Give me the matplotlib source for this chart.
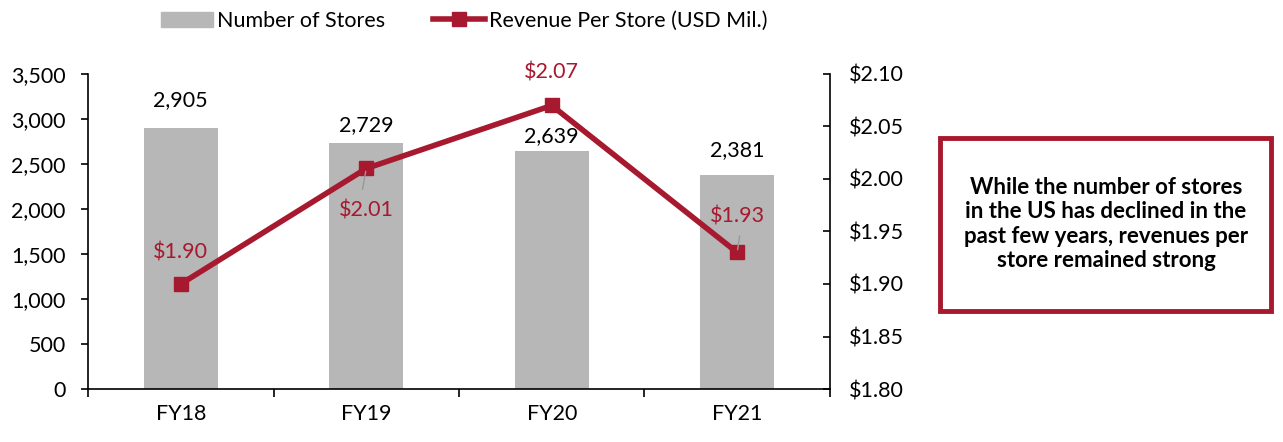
import matplotlib.pyplot as plt
from matplotlib.patches import FancyBboxPatch, Patch
from matplotlib.lines import Line2D
from matplotlib.ticker import FuncFormatter, MultipleLocator

plt.rcParams['font.family'] = ['Lato', 'DejaVu Sans']

years = ['FY18', 'FY19', 'FY20', 'FY21']
stores = [2905, 2729, 2639, 2381]
revenue = [1.90, 2.01, 2.07, 1.93]
rev_labels = ['$1.90', '$2.01', '$2.07', '$1.93']

red = '#A6192E'
grey = '#B7B7B7'
fs = 15.5

fig = plt.figure(figsize=(12.83, 4.42), dpi=100)
ax = fig.add_axes([0.0686, 0.1199, 0.5783, 0.7127])
ax2 = ax.twinx()

x = range(len(years))
ax.bar(x, stores, width=0.4, color=grey, zorder=1)
# label gap above each bar top (points), as placed in the original
bar_gaps = [20, 13, 11, 18]
for i, v in enumerate(stores):
    ax.annotate(f'{v:,}', (i, v), xytext=(0, bar_gaps[i]), textcoords='offset points',
                ha='center', va='center', fontsize=fs)

ax.set_xlim(-0.5, 3.5)
ax.set_ylim(0, 3500)
ax.yaxis.set_major_locator(MultipleLocator(500))
ax.yaxis.set_major_formatter(FuncFormatter(lambda v, p: f'{v:,.0f}'))
ax.set_xticks([-0.5, 0.5, 1.5, 2.5, 3.5])
ax.set_xticklabels([])
ax.set_xticks(list(x), minor=True)
ax.set_xticklabels(years, minor=True)
ax.tick_params(axis='x', which='major', direction='out', length=6, width=1.2)
ax.tick_params(axis='x', which='minor', length=0, pad=11, labelsize=fs)
ax.tick_params(axis='y', direction='out', length=5, width=1.2, labelsize=fs, pad=11)
for s in ['top', 'right']:
    ax.spines[s].set_visible(False)
ax.spines['left'].set_linewidth(1.2)
ax.spines['bottom'].set_linewidth(1.2)

ax2.plot(x, revenue, color=red, lw=4, marker='s', markersize=10, zorder=3)
ax2.set_ylim(1.80, 2.10)
ax2.yaxis.set_major_locator(MultipleLocator(0.05))
ax2.yaxis.set_major_formatter(FuncFormatter(lambda v, p: f'${v:.2f}'))
ax2.tick_params(axis='y', direction='in', length=5, width=1.2, labelsize=fs, pad=14)
for s in ['top', 'left', 'bottom']:
    ax2.spines[s].set_visible(False)
ax2.spines['right'].set_linewidth(1.2)

# line labels: offsets in points, leader line where label sits away
offsets = [(0, 23), (0, -30), (0, 24), (0, 26)]
for i, (lab, off) in enumerate(zip(rev_labels, offsets)):
    ax2.annotate(lab, (i, revenue[i]), xytext=off, textcoords='offset points',
                 ha='center', va='center', color=red, fontsize=fs, zorder=4)
ax2.annotate('', (1, revenue[1]), xytext=(-3, -17), textcoords='offset points',
             arrowprops=dict(arrowstyle='-', color='#999999', lw=1))
ax2.annotate('', (3, revenue[3]), xytext=(2, 14), textcoords='offset points',
             arrowprops=dict(arrowstyle='-', color='#999999', lw=1))

# legend
handles = [Patch(color=grey, label='Number of Stores'),
           Line2D([], [], color=red, lw=4, marker='s', markersize=10,
                  label='Revenue Per Store (USD Mil.)')]
fig.legend(handles=handles, loc='center', bbox_to_anchor=(0.362, 0.953), ncol=2,
           frameon=False, fontsize=15.5, handlelength=2.4, handletextpad=0.2,
           columnspacing=2.2)

# callout box
box = FancyBboxPatch((0.733, 0.297), 0.258, 0.391, boxstyle='square,pad=0',
                     transform=fig.transFigure, fill=False, edgecolor=red, lw=3.5)
fig.patches.append(box)
fig.text(0.862, 0.493, 'While the number of stores\nin the US has declined in the\n'
         'past few years, revenues per\nstore remained strong',
         ha='center', va='center', fontsize=16, fontweight='bold', linespacing=1.2)

fig.savefig('out.png', dpi=100)
